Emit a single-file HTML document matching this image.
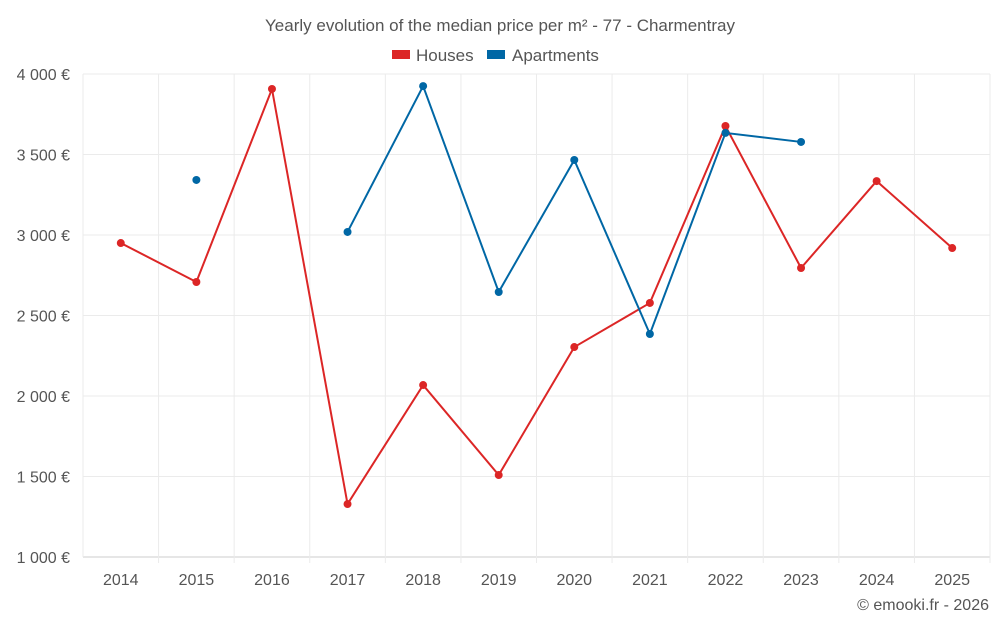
<!DOCTYPE html>
<html><head><meta charset="utf-8">
<style>
body{margin:0;background:#fff;font-family:"Liberation Sans",sans-serif;}
svg text{font-family:"Liberation Sans",sans-serif;fill:#555;}
</style></head>
<body>
<svg id="chart" width="1000" height="625" xmlns="http://www.w3.org/2000/svg">
<text x="500" y="31" text-anchor="middle" font-size="17">Yearly evolution of the median price per m² - 77 - Charmentray</text>
<g>
<rect x="392" y="50" width="18" height="9" fill="#dc2626"/>
<text x="416" y="61" font-size="17">Houses</text>
<rect x="487" y="50" width="18" height="9" fill="#0067a5"/>
<text x="512" y="61" font-size="17">Apartments</text>
</g>
<g id="grid"></g><g id="axes"></g><g id="series"></g>
<text x="989" y="610" text-anchor="end" font-size="16">© emooki.fr - 2026</text>
</svg>
<script>
const years=[2014,2015,2016,2017,2018,2019,2020,2021,2022,2023,2024,2025];
const houses=[2950,2708,3907,1329,2068,1509,2304,2578,3677,2795,3335,2919];
const apartments=[null,3342,null,3019,3925,2646,3466,2385,3634,3578,null,null];
const yTicks=[1000,1500,2000,2500,3000,3500,4000];
const yTickLabels=["1 000 €","1 500 €","2 000 €","2 500 €","3 000 €","3 500 €","4 000 €"];
const L=83,R=990,T=74,B=557,NS="http://www.w3.org/2000/svg";
const band=(R-L)/years.length;
function xs(i){return L+band*(i+0.5);}
function ys(v){return B-(v-1000)/3000*(B-T);}
function mk(t,a,p){const e=document.createElementNS(NS,t);for(const k in a)e.setAttribute(k,a[k]);p.appendChild(e);return e;}
const grid=document.getElementById('grid'),axes=document.getElementById('axes'),ser=document.getElementById('series');
yTicks.forEach((v,i)=>{
 const l=mk('line',{x1:L,x2:R,y1:ys(v),y2:ys(v),stroke:v===1000?'#ccc':'#ebebeb'},grid);
 
 
 const t=mk('text',{x:70,y:ys(v)+6,'text-anchor':'end','font-size':16},axes);
 t.textContent=yTickLabels[i];
 
 
});
for(let i=0;i<=years.length;i++){
 const l=mk('line',{x1:L+band*i,x2:L+band*i,y1:T,y2:B+(i>0?6:0),stroke:'#ebebeb'},grid);
 
 
}
years.forEach((y,i)=>{
 const t=mk('text',{x:xs(i),y:585,'text-anchor':'middle','font-size':16},axes);
 t.textContent=y;
 
 
});
function draw(data,color,name){
 let d='',pen=false;
 data.forEach((v,i)=>{if(v==null){pen=false;return;}d+=(pen?'L':'M')+xs(i)+' '+ys(v)+' ';pen=true;});
 const p=mk('path',{d:d,fill:'none',stroke:color,'stroke-width':2},ser);
 
 
 data.forEach((v,i)=>{if(v==null)return;
  const c=mk('circle',{cx:xs(i),cy:ys(v),r:4,fill:color},ser);
  
  
 });
}
draw(houses,'#dc2626','houses');
draw(apartments,'#0067a5','apartments');
</script>
</body></html>
